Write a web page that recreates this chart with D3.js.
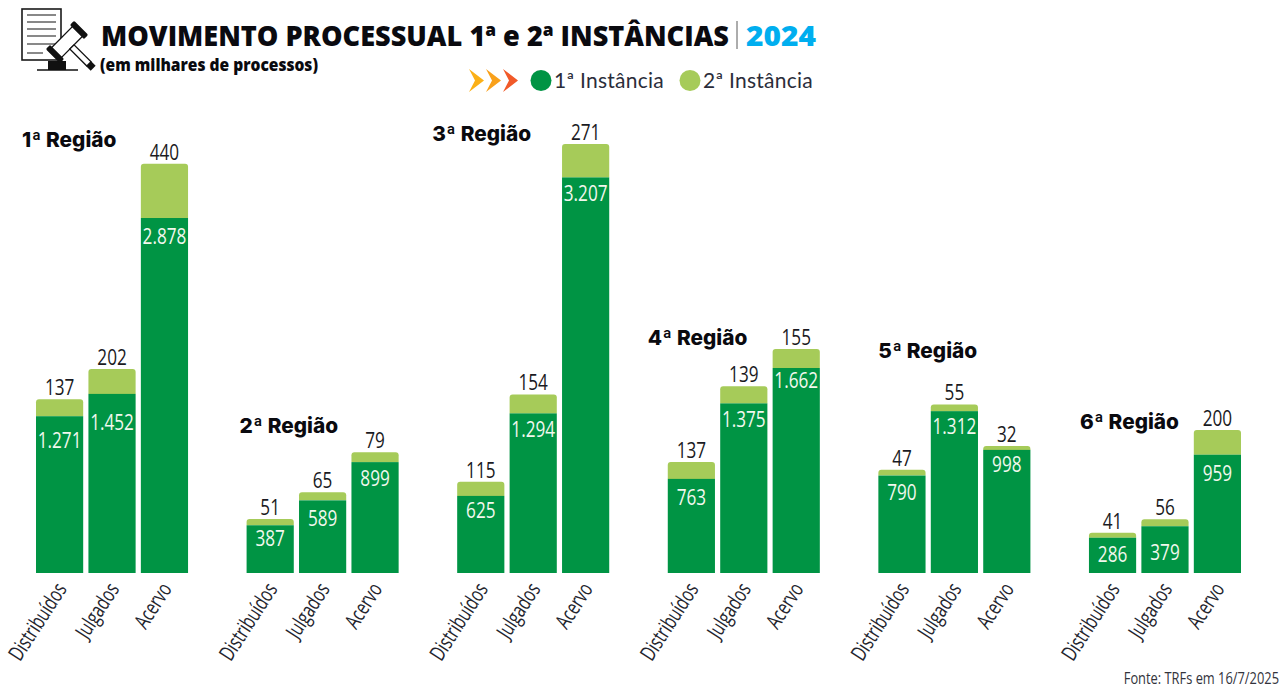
<!DOCTYPE html>
<html lang="pt-BR">
<head>
<meta charset="utf-8">
<title>Movimento Processual 2024</title>
<script src="https://cdn.jsdelivr.net/npm/d3@7/dist/d3.min.js"></script>
<style>
  html, body { margin: 0; padding: 0; background: #fff; }
  svg { display: block; }
  .num { font-family: "Open Sans", sans-serif; font-weight: 400; }
  .head { font-family: "Open Sans", sans-serif; font-weight: 800; fill: #0a0a0f; }
  .region { font-family: "Inter", sans-serif; font-weight: 800; font-size: 20.8px; fill: #0a0a0f; }
  .legend { font-family: "Lato", sans-serif; font-weight: 400; font-size: 21px; fill: #2b2d3a; letter-spacing: .25px; }
</style>
</head>
<body>
<svg id="chart" width="1280" height="689"></svg>
<script>
// Caseload per federal region, in thousands of cases
const regions = ["1ª Região", "2ª Região", "3ª Região", "4ª Região", "5ª Região", "6ª Região"];
const measures = ["Distribuídos", "Julgados", "Acervo"];
const firstInstance = [
  [1271, 1452, 2878],
  [387, 589, 899],
  [625, 1294, 3207],
  [763, 1375, 1662],
  [790, 1312, 998],
  [286, 379, 959]
];
const secondInstance = [
  [137, 202, 440],
  [51, 65, 79],
  [115, 154, 271],
  [137, 139, 155],
  [47, 55, 32],
  [41, 56, 200]
];

const GREEN = "#009444", LIME = "#a6cb59";
const baseline = 573;
const NARROW = 0.78;

const svg = d3.select("#chart");
const y = d3.scaleLinear().domain([0, 3478]).range([baseline, 144]);
const regionX = d3.scaleBand().domain(regions).range([36, 1241]).paddingInner(0.278);
const barX = d3.scaleBand().domain(measures).range([0, regionX.bandwidth()]).paddingInner(0.1);

// Where each region's heading sits, relative to its group, and the hand-set
// drop of the first-instance figure below the top of its segment.
const headingPos = [[-14, 147], [-7, 433], [-25, 141], [-20, 345], [0, 358], [-9, 429]];
const innerDrop = [
  [32, 36, 26],
  [21, 26, 24],
  [22, 24, 24],
  [26, 24, 20],
  [24, 23, 22],
  [24, 34, 26]
];

const fmt = v => d3.format(",")(v).replace(/,/g, ".");

// Bar with rounded upper corners only
function topRounded(x, yTop, w, yBottom, r) {
  const p = d3.path();
  p.moveTo(x, yBottom);
  p.lineTo(x, yTop + r);
  p.quadraticCurveTo(x, yTop, x + r, yTop);
  p.lineTo(x + w - r, yTop);
  p.quadraticCurveTo(x + w, yTop, x + w, yTop + r);
  p.lineTo(x + w, yBottom);
  p.closePath();
  return p.toString();
}

// Condensed figures: the installed faces have no narrow cut, so squeeze horizontally
function narrowText(parent, x, yPos, size, fill, str) {
  return parent.append("text").attr("class", "num")
    .attr("transform", `translate(${x},${yPos}) scale(${NARROW},1)`)
    .attr("text-anchor", "middle")
    .attr("font-size", size).attr("fill", fill)
    .text(str);
}

regions.forEach((region, ri) => {
  const g = svg.append("g").attr("transform", `translate(${regionX(region)},0)`);

  measures.forEach((m, mi) => {
    const a = firstInstance[ri][mi], b = secondInstance[ri][mi];
    const x = barX(m), w = barX.bandwidth(), cx = x + w / 2;

    g.append("path").attr("fill", LIME)
      .attr("d", topRounded(x, y(a + b), w, y(a), 3));
    g.append("rect").attr("fill", GREEN)
      .attr("x", x).attr("width", w)
      .attr("y", y(a)).attr("height", baseline - y(a));

    narrowText(g, cx, y(a + b) - 4, 22, "#1a1a22", fmt(b));
    narrowText(g, cx, y(a) + innerDrop[ri][mi], 22, "#f2f8ee", fmt(a));
  });

  // Category labels, slanted below each group
  const axis = g.append("g")
    .attr("transform", `translate(0,${baseline})`)
    .call(d3.axisBottom(barX).tickSize(0));
  axis.select(".domain").remove();
  axis.selectAll("text")
    .attr("class", "num")
    .attr("font-size", 21.5)
    .attr("fill", "#24252e")
    .attr("text-anchor", "end")
    .attr("dy", null)
    .attr("y", 0)
    .attr("transform", "translate(8,16) rotate(-57) scale(0.72,1)");

  svg.append("text").attr("class", "region")
    .attr("x", regionX(region) + headingPos[ri][0])
    .attr("y", headingPos[ri][1])
    .text(region);
});

// Title block
svg.append("text").attr("class", "head").attr("x", 101).attr("y", 46)
  .attr("font-size", 28).attr("textLength", 628).attr("lengthAdjust", "spacingAndGlyphs")
  .text("MOVIMENTO PROCESSUAL 1ª e 2ª INSTÂNCIAS");
svg.append("line").attr("x1", 737).attr("x2", 737).attr("y1", 21).attr("y2", 49)
  .attr("stroke", "#5b5b5b").attr("stroke-width", 1);
svg.append("text").attr("x", 746).attr("y", 46)
  .attr("font-family", "Open Sans, sans-serif").attr("font-weight", 800)
  .attr("font-size", 28).attr("fill", "#00aeef")
  .attr("textLength", 70).attr("lengthAdjust", "spacingAndGlyphs")
  .text("2024");
svg.append("text").attr("class", "head").attr("x", 100).attr("y", 71)
  .attr("font-size", 18).attr("textLength", 218).attr("lengthAdjust", "spacingAndGlyphs")
  .text("(em milhares de processos)");

// Legend with its three lead-in chevrons
[["#fbb017", 469], ["#f9a11b", 486], ["#f15a29", 503]].forEach(([color, x]) => {
  svg.append("path").attr("fill", color)
    .attr("d", `M${x},69 L${x + 15},80.5 L${x},92 L${x + 6},80.5 Z`);
});
svg.append("circle").attr("cx", 541).attr("cy", 80.5).attr("r", 10.5).attr("fill", GREEN);
svg.append("text").attr("class", "legend").attr("x", 554).attr("y", 88).text("1ª Instância");
svg.append("circle").attr("cx", 690).attr("cy", 80.5).attr("r", 10.5).attr("fill", LIME);
svg.append("text").attr("class", "legend").attr("x", 703).attr("y", 88).text("2ª Instância");

// Source note
svg.append("text").attr("class", "num")
  .attr("transform", "translate(1279,684) scale(0.83,1)")
  .attr("text-anchor", "end").attr("font-size", 15.5).attr("fill", "#33343c")
  .text("Fonte: TRFs em 16/7/2025");

// Document-and-gavel icon
const icon = svg.append("g");
icon.append("rect").attr("x", 22).attr("y", 9).attr("width", 39).attr("height", 51)
  .attr("fill", "#fff").attr("stroke", "#1a1a1a").attr("stroke-width", 1.6);
[15, 22, 29, 36, 44, 53].forEach((ly, i) => {
  icon.append("line").attr("x1", 27).attr("x2", i === 5 ? 43 : 56)
    .attr("y1", ly).attr("y2", ly)
    .attr("stroke", "#3a3a3a").attr("stroke-width", 1.2);
});
icon.append("rect").attr("x", 48).attr("y", 61).attr("width", 18).attr("height", 9).attr("fill", "#111");
icon.append("line").attr("x1", 37).attr("x2", 78).attr("y1", 70).attr("y2", 70)
  .attr("stroke", "#111").attr("stroke-width", 1.5);
const gavel = icon.append("g").attr("transform", "translate(67,42) rotate(45)");
gavel.append("rect").attr("x", -7).attr("y", -15).attr("width", 14).attr("height", 30)
  .attr("fill", "#fff").attr("stroke", "#111").attr("stroke-width", 1.3);
gavel.append("rect").attr("x", -10).attr("y", -20).attr("width", 20).attr("height", 6).attr("rx", 1.5).attr("fill", "#111");
gavel.append("rect").attr("x", -10).attr("y", 14).attr("width", 20).attr("height", 6).attr("rx", 1.5).attr("fill", "#111");
gavel.append("rect").attr("x", 7).attr("y", -3).attr("width", 24).attr("height", 6)
  .attr("fill", "#fff").attr("stroke", "#111").attr("stroke-width", 1.3);
gavel.append("rect").attr("x", 31).attr("y", -3.5).attr("width", 6).attr("height", 7).attr("fill", "#111");
</script>
</body>
</html>
